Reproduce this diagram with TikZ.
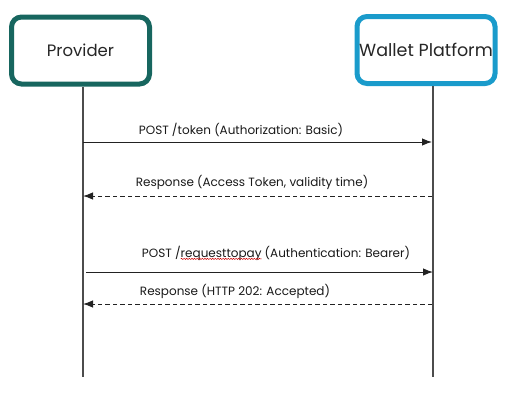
\documentclass[tikz,border=0pt]{standalone}
\usepackage{fontspec}
\setmainfont{Poppins}
\usetikzlibrary{arrows.meta,decorations.pathmorphing}
\definecolor{provc}{HTML}{17665F}
\definecolor{wallc}{HTML}{1A9BCB}
\definecolor{linec}{HTML}{222222}
\newcommand\redwave[1]{\tikz[baseline=(w.base)]{\node[inner sep=0pt,outer sep=0pt] (w) {#1};\draw[overlay, draw=red!80!black, line width=0.5pt, decorate, decoration={snake,amplitude=0.6pt,segment length=2.6pt}] ([yshift=-1.8pt]w.base west) -- ([yshift=-1.8pt]w.base east);}}
\begin{document}
\begin{tikzpicture}[x=1pt,y=-1pt,
  actor/.style={draw, line width=5pt, rounded corners=10pt, fill=white, minimum width=138pt, minimum height=67pt, font=\fontsize{16.5}{19}\selectfont, text=black!85, inner sep=0pt},
  life/.style={draw=black!70, line width=1.3pt},
  msg/.style={draw=linec, line width=1pt, -{Latex[length=10pt,width=7.5pt]}},
  reply/.style={msg, dashed, dash pattern=on 4.5pt off 3pt},
  lbl/.style={font=\fontsize{12}{13}\selectfont, text=black!90, inner sep=0pt}
]
\useasboundingbox (0,0) rectangle (510,407);
\node[actor, draw=provc] (prov) at (80.5,50.5) {Provider};
\node[actor, draw=wallc] (wall) at (426,50) {\makebox[0pt]{\fontsize{17.5}{19}\selectfont Wallet Platform}};
\coordinate (pb) at (83,377);
\coordinate (wb) at (433,377);
\draw[life] (prov.south -| pb) -- (pb);
\draw[life] (wall.south -| wb) -- (wb);
\coordinate (a1s) at (83,142); \coordinate (a1e) at (432,142);
\coordinate (a2s) at (432,196); \coordinate (a2e) at (83,196);
\coordinate (a3s) at (86,272); \coordinate (a3e) at (433,272);
\coordinate (a4s) at (432,304); \coordinate (a4e) at (83,304);
\draw[msg] (a1s) -- (a1e);
\draw[reply] (a2s) -- (a2e);
\draw[msg] (a3s) -- (a3e);
\draw[reply] (a4s) -- (a4e);
\node[lbl] (l1) at (241,130) {POST /token (Authorization: Basic)};
\node[lbl] (l2) at (252,182) {Response (Access Token, validity time)};
\node[lbl] (l3) at (276,253) {POST /\redwave{requesttopay} (Authentication: Bearer)};
\node[lbl] (l4) at (235,291) {Response (HTTP 202: Accepted)};
\end{tikzpicture}
\end{document}
